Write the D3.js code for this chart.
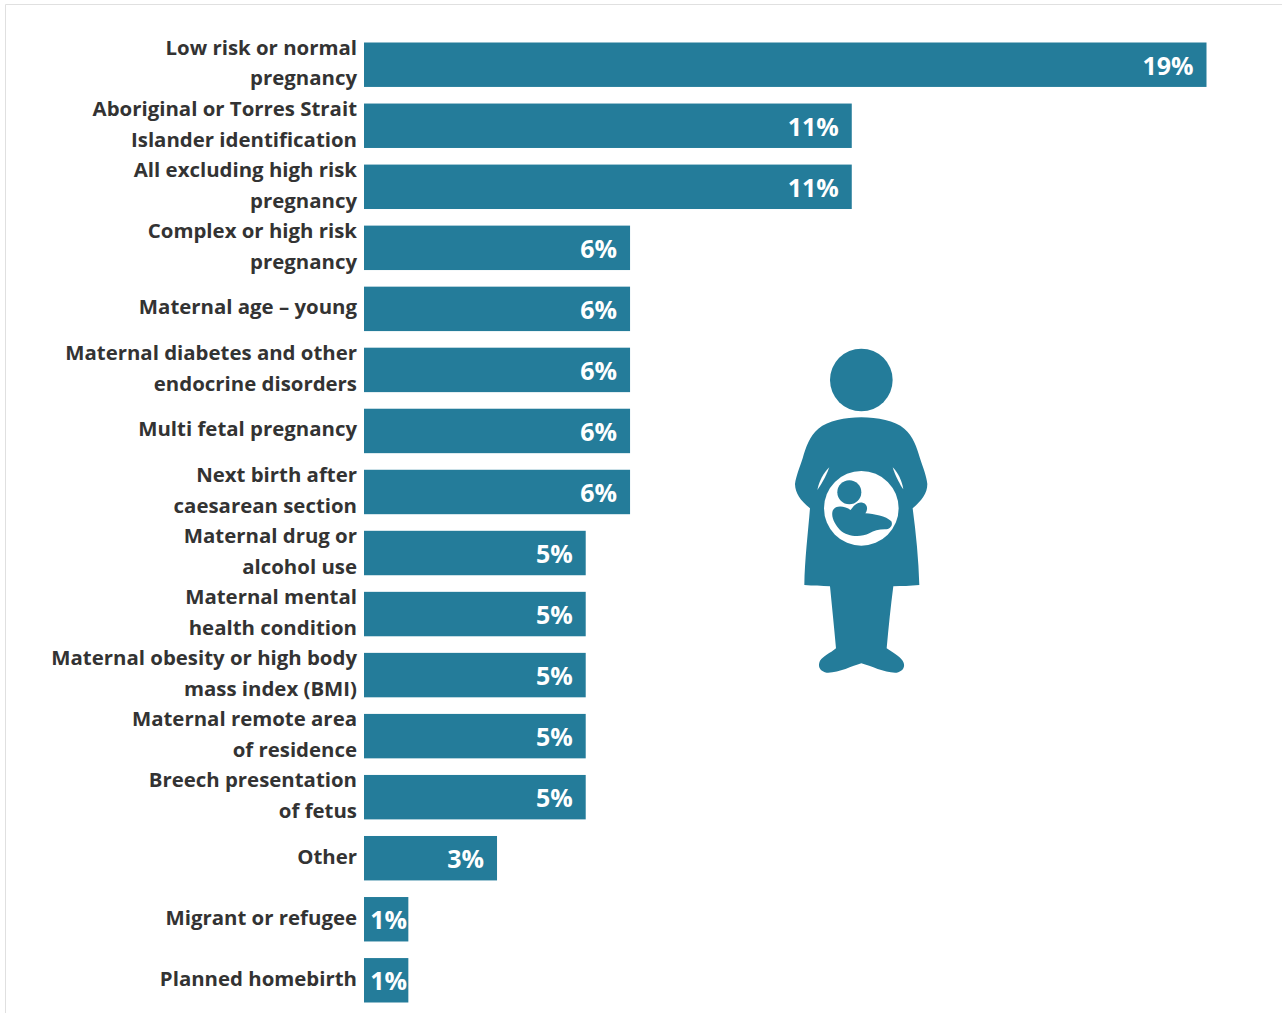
<!DOCTYPE html>
<html>
<head>
<meta charset="utf-8">
<script src="https://cdn.jsdelivr.net/npm/d3@7"></script>
<style>
html, body { margin: 0; padding: 0; background: #fff; }
svg { display: block; }
</style>
</head>
<body>
<svg id="chart" width="1282" height="1013"></svg>
<script>
// Reasons for referral, with label lines split where they wrap
const categories = [
  ["Low risk or normal", "pregnancy"],
  ["Aboriginal or Torres Strait", "Islander identification"],
  ["All excluding high risk", "pregnancy"],
  ["Complex or high risk", "pregnancy"],
  ["Maternal age – young"],
  ["Maternal diabetes and other", "endocrine disorders"],
  ["Multi fetal pregnancy"],
  ["Next birth after", "caesarean section"],
  ["Maternal drug or", "alcohol use"],
  ["Maternal mental", "health condition"],
  ["Maternal obesity or high body", "mass index (BMI)"],
  ["Maternal remote area", "of residence"],
  ["Breech presentation", "of fetus"],
  ["Other"],
  ["Migrant or refugee"],
  ["Planned homebirth"]
];
const percentages = [19, 11, 11, 6, 6, 6, 6, 6, 5, 5, 5, 5, 5, 3, 1, 1];

const teal = "#247c9a";
const ink = "#333";
const svg = d3.select("#chart");

// Page frame along the top and left edges
svg.append("path")
  .attr("d", "M5.5,1013V4.5H1282")
  .attr("fill", "none")
  .attr("stroke", "#e0e0e0");

const x = d3.scaleLinear().domain([0, 19]).range([364, 1206.5]);
const y = d3.scaleBand()
  .domain(d3.range(categories.length))
  .range([42.5, 1002.5])
  .paddingInner(0.272)
  .paddingOuter(0);

const rows = svg.selectAll("g.row")
  .data(percentages)
  .join("g")
  .attr("class", "row");

rows.append("rect")
  .attr("x", x(0))
  .attr("y", (d, i) => y(i))
  .attr("width", d => x(d) - x(0))
  .attr("height", y.bandwidth())
  .attr("fill", teal);

// Value labels sit inside the bar end; narrow bars keep the text inside the bar
rows.append("text")
  .attr("x", d => Math.max(x(d) - 13, x(0) + 43))
  .attr("y", (d, i) => y(i) + y.bandwidth() / 2 + 10)
  .attr("text-anchor", "end")
  .attr("font-family", "'Open Sans', sans-serif")
  .attr("font-weight", 700)
  .attr("font-size", 25)
  .attr("fill", "#fff")
  .text(d => d + "%");

// Category labels, right aligned against the bars
const lineHeight = 30.5;
const labels = svg.selectAll("text.cat")
  .data(categories)
  .join("text")
  .attr("class", "cat")
  .attr("text-anchor", "end")
  .attr("font-family", "'Open Sans', sans-serif")
  .attr("font-weight", 700)
  .attr("font-size", 20.4)
  .attr("fill", ink);

labels.each(function (lines, i) {
  const centre = y(i) + y.bandwidth() / 2 - 1.5;
  d3.select(this).selectAll("tspan")
    .data(lines)
    .join("tspan")
    .attr("x", 357)
    .attr("y", (l, k) => centre + 7 + (k - (lines.length - 1) / 2) * lineHeight)
    .text(l => l);
});

// Pregnant figure pictogram
const icon = svg.append("g").attr("transform", "translate(770,330) scale(0.3333)");
icon.append("circle").attr("cx", 274).attr("cy", 150).attr("r", 94).attr("fill", teal);
icon.append("path").attr("fill", teal).attr("d",
  "M274,262 C225,262 175,272 145,296 C118,320 108,350 98,385 C88,415 78,440 75,462 " +
  "C76,490 90,510 120,535 C114,610 104,690 103,765 C130,768 155,768 180,769 " +
  "C186,830 192,890 198,955 C180,970 160,978 150,992 C142,1010 150,1024 170,1028 " +
  "C205,1030 245,1008 274,1000 C305,1008 345,1030 380,1028 C400,1024 408,1008 398,992 " +
  "C388,978 368,968 350,955 C356,890 362,830 370,769 C395,768 420,768 448,765 " +
  "C446,690 438,610 428,535 C455,512 472,490 472,462 C470,440 460,415 450,385 " +
  "C440,350 430,320 403,296 C375,272 322,262 274,262 Z");
icon.append("circle").attr("cx", 274).attr("cy", 535).attr("r", 112).attr("fill", "#fff");
icon.append("circle").attr("cx", 238).attr("cy", 487).attr("r", 36).attr("fill", teal);
icon.append("path").attr("fill", teal).attr("d",
  "M188,542 C196,524 225,528 242,540 C250,528 262,514 278,518 C294,522 294,540 286,550 " +
  "C312,552 348,558 364,574 C370,586 360,598 345,598 C325,598 312,602 298,610 " +
  "C270,624 232,620 210,600 C196,584 182,562 188,542 Z");
// Slim gaps between the arms and the torso
icon.append("path").attr("fill", "#fff").attr("d",
  "M178,412 C160,430 148,452 142,480 C150,470 168,440 178,412 Z");
icon.append("path").attr("fill", "#fff").attr("d",
  "M368,412 C384,428 396,452 400,478 C392,468 376,438 368,412 Z");
</script>
</body>
</html>
